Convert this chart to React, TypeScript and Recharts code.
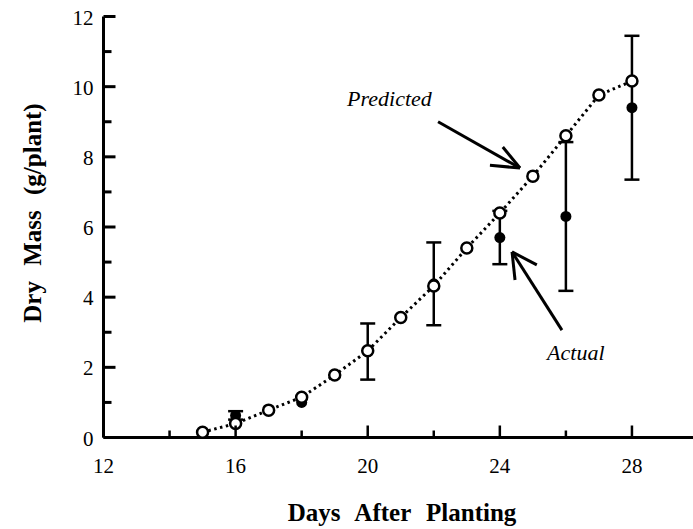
import React from 'react';
import {
  ComposedChart,
  Line,
  Scatter,
  ErrorBar,
  XAxis,
  YAxis,
  ReferenceLine,
  ReferenceDot,
} from 'recharts';

// predicted dry mass (open circles, dotted line)
const predDays = [15, 16, 17, 18, 19, 20, 21, 22, 23, 24, 25, 26, 27, 28];
const predMass = [0.15, 0.4, 0.78, 1.15, 1.78, 2.47, 3.42, 4.32, 5.4, 6.4, 7.45, 8.6, 9.76, 10.16];

// measured dry mass (filled circles) with standard error
const actDays = [16, 18, 20, 22, 24, 26, 28];
const actMass = [0.63, 1.0, 2.45, 4.38, 5.7, 6.3, 9.4];
const actErr = [0.12, null, 0.8, 1.18, 0.76, 2.12, 2.05];

const xTicks = [12, 14, 16, 18, 20, 22, 24, 26, 28, 30];
const yTicks = [0, 1, 2, 3, 4, 5, 6, 7, 8, 9, 10, 11, 12];

// annotation arrows, in data units: [tail, tip, barb1, barb2]
const predArrow = [
  { x: 22.13, y: 9.0 },
  { x: 24.61, y: 7.68 },
  { x: 24.09, y: 8.28 },
  { x: 23.7, y: 7.76 },
];
const actArrow = [
  { x: 25.88, y: 3.06 },
  { x: 24.37, y: 5.29 },
  { x: 24.46, y: 4.49 },
  { x: 25.12, y: 4.92 },
];

const FONT = 'Liberation Serif';

const predicted = predDays.map((d, i) => ({ day: d, mass: predMass[i] }));
const actual = actDays.map((d, i) => ({ day: d, mass: actMass[i], err: actErr[i] }));

const serif = (size: number, extra: React.CSSProperties = {}): React.CSSProperties => ({
  fontFamily: FONT,
  fontSize: size,
  ...extra,
});

function BottomTick(p: any) {
  const v = p.payload.value;
  const major = v % 4 === 0;
  return (
    <g>
      <line x1={p.x} x2={p.x} y1={p.y} y2={p.y - (major ? 12 : 7)} stroke="#000" strokeWidth={2.5} />
      {major && v < 30 && (
        <text x={p.x} y={p.y + 35} textAnchor="middle" style={serif(21)} fill="#000">
          {v}
        </text>
      )}
    </g>
  );
}

function LeftTick(p: any) {
  const v = p.payload.value;
  const major = v % 2 === 0;
  return (
    <g>
      <line x1={p.x} x2={p.x + (major ? 12 : 8)} y1={p.y} y2={p.y} stroke="#000" strokeWidth={3} />
      {major && (
        <text x={p.x - 10} y={p.y + 8} textAnchor="end" style={serif(21)} fill="#000">
          {v}
        </text>
      )}
    </g>
  );
}

function RightTick(p: any) {
  const v = p.payload.value;
  const major = v % 2 === 0;
  return <line x1={p.x} x2={p.x - (major ? 15 : 9)} y1={p.y} y2={p.y} stroke="#000" strokeWidth={3} />;
}

export default function App() {
  const arrowLines = (pts: { x: number; y: number }[], key: string) => [
    <ReferenceLine key={key + 'a'} segment={[pts[0], pts[1]]} stroke="#000" strokeWidth={3} />,
    <ReferenceLine key={key + 'b'} segment={[pts[2], pts[1]]} stroke="#000" strokeWidth={3} />,
    <ReferenceLine key={key + 'c'} segment={[pts[3], pts[1]]} stroke="#000" strokeWidth={3} />,
  ];

  return (
    <div
      style={{
        position: 'absolute',
        left: 0,
        top: 0,
        width: 693,
        height: 529,
        overflow: 'hidden',
        background: '#fff',
      }}
    >
      <style>{`svg text { font-family: 'Liberation Serif', serif !important; }`}</style>
      <ComposedChart width={710} height={529} margin={{ top: 16.5, right: 0, left: 0, bottom: 0 }}>
        <XAxis
          type="number"
          dataKey="day"
          domain={[12, 30]}
          ticks={xTicks}
          interval={0}
          height={91.5}
          tickSize={0}
          tickMargin={0}
          tickLine={false}
          tick={<BottomTick />}
          axisLine={{ stroke: '#000', strokeWidth: 3 }}
          label={{
            content: () => (
              <text
                x={402}
                y={521}
                textAnchor="middle"
                style={serif(25, { fontWeight: 'bold', wordSpacing: 9 })}
                fill="#000"
              >
                Days After Planting
              </text>
            ),
          }}
        />
        <XAxis
          xAxisId="top"
          orientation="top"
          type="number"
          domain={[12, 30]}
          height={0}
          tick={false}
          tickLine={false}
          axisLine={{ stroke: '#000', strokeWidth: 3 }}
        />
        <YAxis
          type="number"
          domain={[0, 12]}
          ticks={yTicks}
          interval={0}
          width={103.5}
          tickSize={0}
          tickMargin={0}
          tickLine={false}
          tick={<LeftTick />}
          axisLine={{ stroke: '#000', strokeWidth: 3 }}
          label={{
            content: ({ viewBox }: any) => {
              const cx = 32;
              const cy = viewBox.y + viewBox.height / 2 - 14;
              return (
                <text
                  x={cx}
                  y={cy}
                  transform={`rotate(-90 ${cx} ${cy})`}
                  textAnchor="middle"
                  dominantBaseline="central"
                  style={serif(25, { fontWeight: 'bold', wordSpacing: 9 })}
                  fill="#000"
                >
                  Dry Mass (g/plant)
                </text>
              );
            },
          }}
        />
        <YAxis
          yAxisId="right"
          orientation="right"
          type="number"
          domain={[0, 12]}
          ticks={yTicks}
          interval={0}
          width={12}
          tickSize={0}
          tickMargin={0}
          tickLine={false}
          tick={<RightTick />}
          axisLine={{ stroke: '#000', strokeWidth: 3 }}
        />

        {arrowLines(predArrow, 'p')}
        {arrowLines(actArrow, 'q')}

        <ReferenceDot
          x={21.94}
          y={9.45}
          r={0}
          shape={(p: any) => (
            <text x={p.cx} y={p.cy} textAnchor="end" style={serif(22, { fontStyle: 'italic' })} fill="#000">
              Predicted
            </text>
          )}
        />
        <ReferenceDot
          x={26.3}
          y={2.21}
          r={0}
          shape={(p: any) => (
            <text x={p.cx} y={p.cy} textAnchor="middle" style={serif(22, { fontStyle: 'italic' })} fill="#000">
              Actual
            </text>
          )}
        />

        <Scatter
          data={actual}
          dataKey="mass"
          isAnimationActive={false}
          shape={(p: any) => <circle cx={p.cx} cy={p.cy} r={5.5} fill="#000" />}
        >
          <ErrorBar dataKey="err" direction="y" width={7.5} stroke="#000" strokeWidth={2.5} />
        </Scatter>
        <Line
          data={predicted}
          dataKey="mass"
          type="linear"
          stroke="#000"
          strokeWidth={3}
          strokeDasharray="2.5 3.5"
          dot={{ r: 5.5, fill: '#fff', stroke: '#000', strokeWidth: 2.5, strokeDasharray: 'none' }}
          activeDot={false}
          isAnimationActive={false}
        />
      </ComposedChart>
    </div>
  );
}
